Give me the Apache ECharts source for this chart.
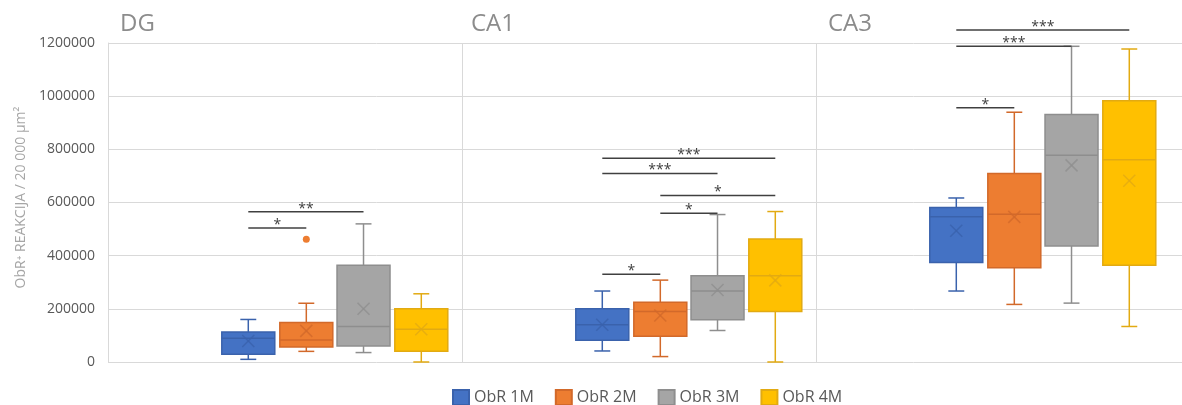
<!DOCTYPE html>
<html><head><meta charset="utf-8">
<script src="https://cdn.jsdelivr.net/npm/echarts@6/dist/echarts.min.js"></script>
<style>html,body{margin:0;padding:0;background:#fff}#c{width:1182px;height:405px}</style>
</head><body><div id="c"></div>
<script>
// ---- data ----
const groups = ['DG', 'CA1', 'CA3'];
const seriesNames = ['ObR 1M', 'ObR 2M', 'ObR 3M', 'ObR 4M'];
const yTicks = [0, 200000, 400000, 600000, 800000, 1000000, 1200000];
// per group: [min, q1, median, q3, max, mean]
const obr1m = [[10000, 29000, 89000, 113000, 160000, 79000], [41500, 82000, 140000, 200000, 267000, 140000], [267000, 374000, 546000, 581000, 617000, 494000]];
const obr2m = [[40000, 56600, 83000, 148600, 221000, 117000], [20400, 97000, 190000, 225000, 308000, 175000], [216600, 354700, 556000, 709400, 939600, 546000]];
const obr3m = [[35500, 60400, 133600, 363800, 519600, 200000], [118500, 158500, 266800, 324500, 554700, 270600], [221500, 436600, 777400, 931000, 1187600, 739600]];
const obr4m = [[0, 40000, 123400, 200000, 256600, 123000], [0, 190200, 324500, 463000, 566000, 307000], [133600, 363800, 761100, 982600, 1177400, 681900]];
// outliers: [group, series, value]
const outliers = [[0, 1, 462000]];
// significance bars: [group, fromSeries, toSeries, value, label]
const sigBars = [
  [0, 0, 1, 504500, '*'], [0, 0, 2, 565000, '**'],
  [1, 0, 3, 766000, '***'], [1, 0, 2, 709400, '***'], [1, 1, 3, 626400, '*'], [1, 1, 2, 560000, '*'], [1, 0, 1, 329800, '*'],
  [2, 0, 3, 1249000, '***'], [2, 0, 2, 1187600, '***'], [2, 0, 1, 956200, '*']
];

// ---- layout / style ----
const OFFSETS = [0.3963, 0.5602, 0.7218, 0.8850];
const BOX_W = 0.1497, CAP_W = 0.045;
const FILLS = ['#4472C4', '#ED7D31', '#A5A5A5', '#FFC000'];
const BORDERS = ['#3A62AC', '#D2692A', '#8E8E8E', '#E2AA12'];
const FONT = 'Open Sans';

const allSeries = [obr1m, obr2m, obr3m, obr4m];

function boxRenderer(k) {
  return function (params, api) {
    const cx = api.value(0) + OFFSETS[k];
    const w = api.size([BOX_W, 0])[0];
    const cw = api.size([CAP_W, 0])[0];
    const x = api.coord([cx, 0])[0];
    const yMin = api.coord([cx, api.value(1)])[1];
    const yQ1 = api.coord([cx, api.value(2)])[1];
    const yMed = api.coord([cx, api.value(3)])[1];
    const yQ3 = api.coord([cx, api.value(4)])[1];
    const yMax = api.coord([cx, api.value(5)])[1];
    const yMean = api.coord([cx, api.value(6)])[1];
    const bc = BORDERS[k];
    const ls = { stroke: bc, lineWidth: 1.5, fill: null };
    const m = 6;
    return {
      type: 'group',
      children: [
        { type: 'line', shape: { x1: x, y1: yQ3, x2: x, y2: yMax }, style: ls },
        { type: 'line', shape: { x1: x - cw / 2, y1: yMax, x2: x + cw / 2, y2: yMax }, style: ls },
        { type: 'line', shape: { x1: x, y1: yQ1, x2: x, y2: yMin }, style: ls },
        { type: 'line', shape: { x1: x - cw / 2, y1: yMin, x2: x + cw / 2, y2: yMin }, style: ls },
        { type: 'rect', shape: { x: x - w / 2, y: yQ3, width: w, height: yQ1 - yQ3 }, style: { fill: FILLS[k], stroke: bc, lineWidth: 1.5 } },
        { type: 'line', shape: { x1: x - w / 2, y1: yMed, x2: x + w / 2, y2: yMed }, style: ls },
        { type: 'line', shape: { x1: x - m, y1: yMean - m, x2: x + m, y2: yMean + m }, style: { stroke: bc, lineWidth: 1.5, opacity: 0.8 } },
        { type: 'line', shape: { x1: x - m, y1: yMean + m, x2: x + m, y2: yMean - m }, style: { stroke: bc, lineWidth: 1.5, opacity: 0.8 } }
      ]
    };
  };
}

const series = allSeries.map((arr, k) => ({
  name: seriesNames[k],
  type: 'custom',
  renderItem: boxRenderer(k),
  itemStyle: { color: FILLS[k], borderColor: BORDERS[k], borderWidth: 1 },
  encode: { x: 0, y: [1, 2, 3, 4, 5] },
  data: arr.map((d, g) => [g].concat(d)),
  z: 3
}));

// separators between groups
series.push({
  type: 'custom',
  silent: true,
  data: [[1], [2]],
  encode: { x: 0 },
  renderItem: function (params, api) {
    const p0 = api.coord([api.value(0), yTicks[0]]);
    const p1 = api.coord([api.value(0), yTicks[yTicks.length - 1]]);
    return { type: 'line', shape: { x1: Math.round(p0[0]) + 0.5, y1: p0[1], x2: Math.round(p1[0]) + 0.5, y2: p1[1] }, style: { stroke: '#d9d9d9', lineWidth: 1 } };
  },
  z: 1
});

// outliers
series.push({
  type: 'custom',
  silent: true,
  data: outliers,
  renderItem: function (params, api) {
    const k = api.value(1);
    const p = api.coord([api.value(0) + OFFSETS[k], api.value(2)]);
    return { type: 'circle', shape: { cx: p[0], cy: p[1], r: 3.5 }, style: { fill: FILLS[k] } };
  },
  z: 4
});

// significance bars
series.push({
  type: 'custom',
  silent: true,
  clip: false,
  data: sigBars,
  renderItem: function (params, api) {
    const g = api.value(0), a = api.value(1), b = api.value(2);
    const p0 = api.coord([g + OFFSETS[a], api.value(3)]);
    const p1 = api.coord([g + OFFSETS[b], api.value(3)]);
    const label = sigBars[params.dataIndex][4];
    return {
      type: 'group',
      children: [
        { type: 'line', shape: { x1: p0[0], y1: p0[1], x2: p1[0], y2: p1[1] }, style: { stroke: '#404040', lineWidth: 1.5 } },
        { type: 'text', style: { text: label, x: (p0[0] + p1[0]) / 2, y: p0[1] - 3, align: 'center', verticalAlign: 'middle', fill: '#404040', font: '14px "' + FONT + '"' } }
      ]
    };
  },
  z: 5
});

const chart = echarts.init(document.getElementById('c'));
chart.setOption({
  animation: false,
  backgroundColor: '#ffffff',
  grid: { left: 108, right: 0, top: 43, bottom: 43, containLabel: false },
  xAxis: {
    type: 'value', min: 0, max: (1182 - 108) / 354,
    axisLine: { show: false }, axisTick: { show: false }, axisLabel: { show: false }, splitLine: { show: false }
  },
  yAxis: {
    type: 'value', min: yTicks[0], max: yTicks[yTicks.length - 1], interval: yTicks[1] - yTicks[0],
    axisLine: { show: true, lineStyle: { color: '#d9d9d9', width: 1 } },
    axisTick: { show: false },
    splitLine: { show: true, lineStyle: { color: '#d9d9d9', width: 1 } },
    axisLabel: { color: '#595959', fontFamily: FONT, fontSize: 14, margin: 13, formatter: v => String(v) },
    name: 'ObR⁺ REAKCIJA / 20 000 μm²',
    nameLocation: 'middle', nameRotate: 90, nameGap: 80,
    nameTextStyle: { color: '#a6a6a6', fontFamily: FONT, fontSize: 14, padding: [0, 0, 0, 10] }
  },
  legend: {
    data: seriesNames, icon: 'rect', itemWidth: 16, itemHeight: 15, left: 452, top: 389, padding: 0, itemGap: 21,
    textStyle: { color: '#595959', fontFamily: FONT, fontSize: 16 }
  },
  graphic: groups.map((t, i) => ({
    type: 'text', left: [120, 471, 828][i], top: 12,
    style: { text: t, fill: '#8c8c8c', font: '24px "' + FONT + '"' }
  })),
  series: series
});
</script></body></html>
